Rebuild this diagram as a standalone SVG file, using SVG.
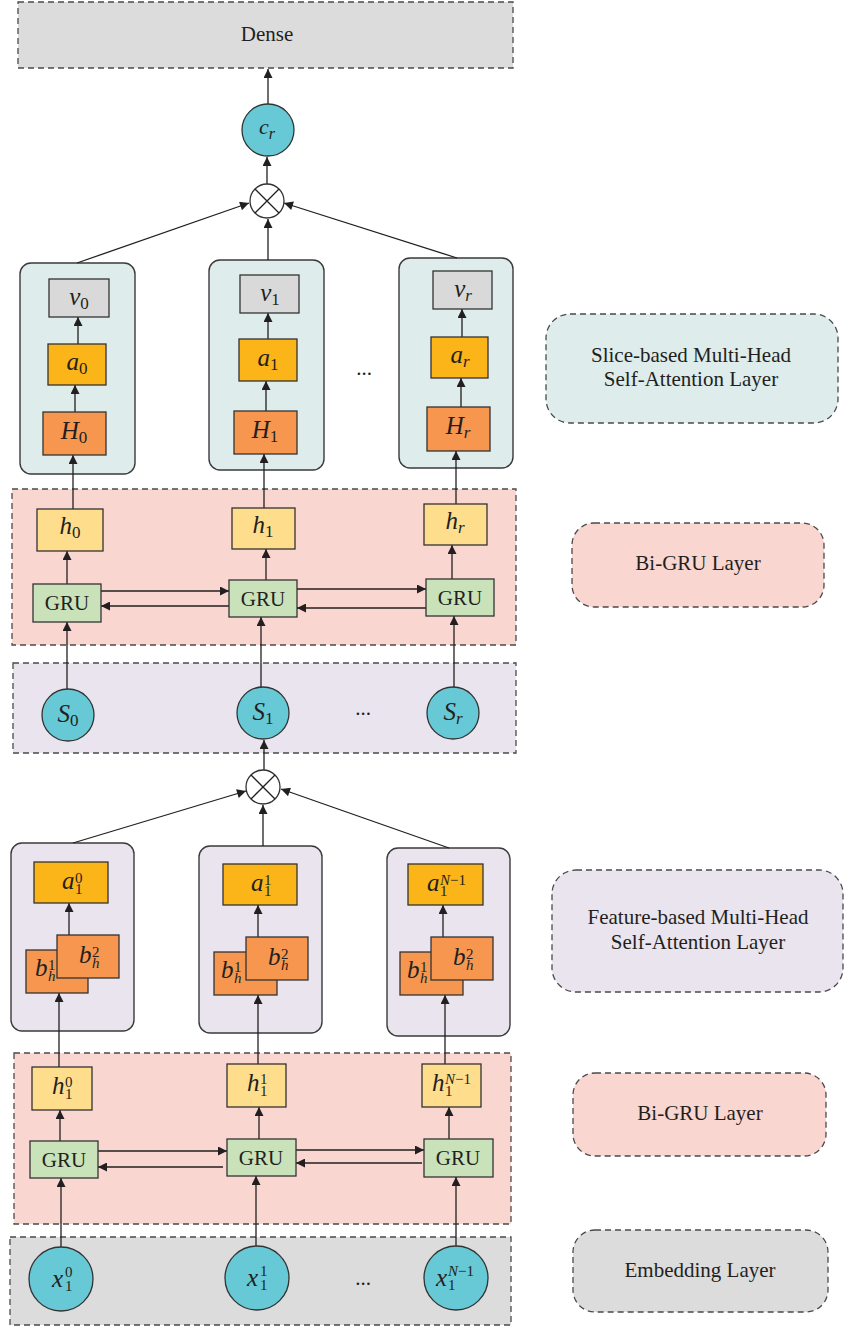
<svg xmlns="http://www.w3.org/2000/svg" width="844" height="1327" viewBox="0 0 844 1327">
<defs>
<marker id="ah" viewBox="0 0 10 10" refX="10" refY="5" markerWidth="10" markerHeight="9" markerUnits="userSpaceOnUse" orient="auto"><path d="M0,0 L10,5 L0,10 z" fill="#231f20"/></marker>
<style>
.layer{stroke:#4a4a4a;stroke-width:1.3;stroke-dasharray:6 4}
.pink{fill:#f9d6d0}.lav{fill:#e9e4ee}.gray{fill:#dcdcdd}.slice{fill:#deeceb}
.grp{stroke:#3a3a3a;stroke-width:1.4}
.nd{stroke:#333;stroke-width:1.3}
.H{fill:#f6964f}.A{fill:#fbb519}.V{fill:#d9d9da}.h{fill:#fedd8c}.G{fill:#c9e2b9}.C{fill:#66c9d5}
.lbl{font-family:"Liberation Serif",serif;font-size:21px;fill:#231f20;text-anchor:middle}
.m{font-family:"Liberation Serif",serif;font-size:25px;font-style:italic;fill:#231f20}
.mc{text-anchor:middle}
.sb{font-size:17px;font-style:normal}
.sbi{font-size:17px;font-style:italic}
.s{font-family:"Liberation Serif",serif;font-size:15px;fill:#231f20;font-style:normal}
.si{font-family:"Liberation Serif",serif;font-size:15px;fill:#231f20;font-style:italic}
.cn line,.cn path{stroke:#231f20;stroke-width:1.3;fill:none}
.ar{marker-end:url(#ah)}
</style>
</defs>
<rect width="844" height="1327" fill="#fff"/>

<!-- layer backgrounds -->
<g id="dense"><rect x="18" y="2" width="495" height="66" class="layer gray"/><text class="lbl" x="267" y="41">Dense</text></g>
<g id="bigru-top-layer"><rect x="12" y="489" width="504" height="156" class="layer pink"/></g>
<g id="s-layer"><rect x="13" y="663" width="503" height="90" class="layer lav"/></g>
<g id="bigru-bottom-layer"><rect x="14" y="1053" width="497" height="171" class="layer pink"/></g>
<g id="embedding-layer"><rect x="10" y="1237" width="501" height="88" class="layer gray"/></g>

<!-- right legend labels -->
<g id="legend-slice"><rect x="546" y="314" width="292" height="109" rx="24" class="layer slice"/><text class="lbl" x="691" y="362">Slice-based Multi-Head</text><text class="lbl" x="691" y="386">Self-Attention Layer</text></g>
<g id="legend-bigru1"><rect x="572" y="523" width="252" height="84" rx="22" class="layer pink"/><text class="lbl" x="698" y="570">Bi-GRU Layer</text></g>
<g id="legend-feature"><rect x="552" y="870" width="291" height="122" rx="24" class="layer lav"/><text class="lbl" x="698" y="924">Feature-based Multi-Head</text><text class="lbl" x="698" y="949">Self-Attention Layer</text></g>
<g id="legend-bigru2"><rect x="573" y="1073" width="253" height="83" rx="22" class="layer pink"/><text class="lbl" x="700" y="1120">Bi-GRU Layer</text></g>
<g id="legend-embedding"><rect x="573" y="1230" width="255" height="82" rx="22" class="layer gray"/><text class="lbl" x="700" y="1277">Embedding Layer</text></g>

<!-- slice attention groups -->
<g id="slice0"><rect x="20" y="263" width="115" height="211" rx="11" class="grp slice"/></g>
<g id="slice1"><rect x="209" y="260" width="115" height="210" rx="11" class="grp slice"/></g>
<g id="slice2"><rect x="399" y="258" width="114" height="210" rx="11" class="grp slice"/></g>
<!-- feature attention groups -->
<g id="feat0"><rect x="11" y="843" width="123" height="188" rx="11" class="grp lav"/></g>
<g id="feat1"><rect x="199" y="846" width="123" height="187" rx="11" class="grp lav"/></g>
<g id="feat2"><rect x="387" y="848" width="123" height="188" rx="11" class="grp lav"/></g>

<!-- connectors -->
<g id="connectors" class="cn">
<line class="ar" x1="268" y1="104" x2="268" y2="69"/>
<line class="ar" x1="267" y1="184" x2="267" y2="157"/>
<line class="ar" x1="77" y1="263" x2="249" y2="203"/>
<line class="ar" x1="268" y1="260" x2="268" y2="219"/>
<line class="ar" x1="457" y1="258" x2="284" y2="203"/>
<line class="ar" x1="78" y1="344" x2="78" y2="317"/>
<line class="ar" x1="75" y1="412" x2="75" y2="385"/>
<line class="ar" x1="73" y1="509" x2="73" y2="455"/>
<line class="ar" x1="268" y1="339" x2="268" y2="313"/>
<line class="ar" x1="266" y1="411" x2="266" y2="381"/>
<line class="ar" x1="264" y1="508" x2="264" y2="454"/>
<line class="ar" x1="462" y1="337" x2="462" y2="309"/>
<line class="ar" x1="461" y1="407" x2="461" y2="378"/>
<line class="ar" x1="456" y1="504" x2="456" y2="451"/>
<line class="ar" x1="67" y1="584" x2="67" y2="551"/>
<line class="ar" x1="266" y1="580" x2="266" y2="549"/>
<line class="ar" x1="452" y1="579" x2="452" y2="545"/>
<line class="ar" x1="101" y1="591" x2="229" y2="591"/>
<line class="ar" x1="229" y1="606" x2="101" y2="606"/>
<line class="ar" x1="297" y1="589" x2="426" y2="589"/>
<line class="ar" x1="426" y1="608" x2="297" y2="608"/>
<line class="ar" x1="67" y1="689" x2="67" y2="622"/>
<line class="ar" x1="261" y1="687" x2="261" y2="617"/>
<line class="ar" x1="454" y1="687" x2="454" y2="616"/>
<line class="ar" x1="264" y1="770" x2="264" y2="740"/>
<line class="ar" x1="73" y1="843" x2="246" y2="791"/>
<line class="ar" x1="263" y1="846" x2="263" y2="805"/>
<line class="ar" x1="449" y1="848" x2="281" y2="789"/>
<line class="ar" x1="69" y1="935" x2="69" y2="903"/>
<line class="ar" x1="258" y1="937" x2="258" y2="905"/>
<line class="ar" x1="443" y1="937" x2="443" y2="905"/>
<line class="ar" x1="59" y1="1067" x2="59" y2="993"/>
<line class="ar" x1="258" y1="1064" x2="258" y2="995"/>
<line class="ar" x1="445" y1="1064" x2="445" y2="995"/>
<line class="ar" x1="60" y1="1141" x2="60" y2="1110"/>
<line class="ar" x1="259" y1="1139" x2="259" y2="1107"/>
<line class="ar" x1="449" y1="1139" x2="449" y2="1107"/>
<line class="ar" x1="98" y1="1151" x2="227" y2="1151"/>
<line class="ar" x1="223" y1="1167" x2="98" y2="1167"/>
<line class="ar" x1="296" y1="1150" x2="424" y2="1150"/>
<line class="ar" x1="422" y1="1163" x2="296" y2="1163"/>
<line class="ar" x1="61" y1="1247" x2="61" y2="1178"/>
<line class="ar" x1="256" y1="1246" x2="256" y2="1176"/>
<line class="ar" x1="456" y1="1246" x2="456" y2="1177"/>
</g>

<!-- top nodes -->
<g id="cr"><circle cx="268" cy="130" r="26" class="nd C"/><text class="m mc" x="267" y="134" style="font-size:22px">c<tspan class="sbi" dy="5" style="font-size:16px">r</tspan></text></g>
<g id="otimes1"><circle cx="267" cy="201" r="17" class="nd" fill="#fff"/><path d="M255,189 L279,213 M279,189 L255,213" stroke="#231f20" stroke-width="1.3"/></g>

<!-- slice nodes -->
<g id="v0"><rect x="49" y="279" width="60" height="38" class="nd V"/><text class="m mc" x="79" y="305">v<tspan class="sb" dy="4">0</tspan></text></g>
<g id="a0"><rect x="48" y="344" width="58" height="41" class="nd A"/><text class="m mc" x="77" y="370">a<tspan class="sb" dy="4">0</tspan></text></g>
<g id="H0"><rect x="43" y="412" width="63" height="43" class="nd H"/><text class="m mc" x="74" y="439">H<tspan class="sb" dy="4">0</tspan></text></g>
<g id="v1"><rect x="240" y="275" width="59" height="38" class="nd V"/><text class="m mc" x="270" y="301">v<tspan class="sb" dy="4">1</tspan></text></g>
<g id="a1"><rect x="239" y="339" width="58" height="42" class="nd A"/><text class="m mc" x="268" y="366">a<tspan class="sb" dy="4">1</tspan></text></g>
<g id="H1"><rect x="234" y="411" width="63" height="43" class="nd H"/><text class="m mc" x="265" y="438">H<tspan class="sb" dy="4">1</tspan></text></g>
<g id="vr"><rect x="433" y="271" width="59" height="38" class="nd V"/><text class="m mc" x="463" y="297">v<tspan class="sbi" dy="4">r</tspan></text></g>
<g id="ar"><rect x="431" y="337" width="57" height="41" class="nd A"/><text class="m mc" x="460" y="363">a<tspan class="sbi" dy="4">r</tspan></text></g>
<g id="Hr"><rect x="427" y="407" width="63" height="44" class="nd H"/><text class="m mc" x="458" y="434">H<tspan class="sbi" dy="4">r</tspan></text></g>
<text class="lbl" x="364" y="375">...</text>

<!-- top Bi-GRU -->
<g id="h0"><rect x="37" y="509" width="66" height="42" class="nd h"/><text class="m mc" x="70" y="534">h<tspan class="sb" dy="4">0</tspan></text></g>
<g id="h1"><rect x="232" y="508" width="63" height="41" class="nd h"/><text class="m mc" x="263" y="533">h<tspan class="sb" dy="4">1</tspan></text></g>
<g id="hr"><rect x="424" y="504" width="63" height="41" class="nd h"/><text class="m mc" x="455" y="529">h<tspan class="sbi" dy="4">r</tspan></text></g>
<g id="gru-t0"><rect x="33" y="584" width="68" height="38" class="nd G"/><text class="lbl" x="67" y="610">GRU</text></g>
<g id="gru-t1"><rect x="229" y="580" width="68" height="37" class="nd G"/><text class="lbl" x="263" y="606">GRU</text></g>
<g id="gru-t2"><rect x="426" y="579" width="68" height="37" class="nd G"/><text class="lbl" x="460" y="605">GRU</text></g>

<!-- S nodes -->
<g id="S0"><circle cx="68" cy="715" r="26" class="nd C"/><text class="m mc" x="68" y="722">S<tspan class="sb" dy="4">0</tspan></text></g>
<g id="S1"><circle cx="263" cy="713" r="26" class="nd C"/><text class="m mc" x="263" y="720">S<tspan class="sb" dy="4">1</tspan></text></g>
<g id="Sr"><circle cx="453" cy="713" r="26" class="nd C"/><text class="m mc" x="453" y="720">S<tspan class="sbi" dy="4">r</tspan></text></g>
<text class="lbl" x="363" y="715">...</text>

<g id="otimes2"><circle cx="263" cy="787" r="17" class="nd" fill="#fff"/><path d="M251,775 L275,799 M275,775 L251,799" stroke="#231f20" stroke-width="1.3"/></g>

<!-- feature nodes -->
<g id="fa0"><rect x="34" y="862" width="74" height="41" class="nd A"/><text class="m" x="62" y="889">a</text><text class="s" x="75" y="883">0</text><text class="s" x="75" y="894">1</text></g>
<g id="fb10"><rect x="26" y="950" width="62" height="43" class="nd H"/><text class="m" x="35" y="976">b</text><text class="s" x="48" y="970">1</text><text class="si" x="48" y="981">h</text></g>
<g id="fb20"><rect x="57" y="935" width="62" height="43" class="nd H"/><text class="m" x="79" y="963">b</text><text class="s" x="92" y="957">2</text><text class="si" x="92" y="968">h</text></g>

<g id="fa1"><rect x="223" y="864" width="74" height="41" class="nd A"/><text class="m" x="251" y="891">a</text><text class="s" x="264" y="885">1</text><text class="s" x="264" y="896">1</text></g>
<g id="fb11"><rect x="214" y="952" width="63" height="43" class="nd H"/><text class="m" x="221" y="978">b</text><text class="s" x="234" y="972">1</text><text class="si" x="234" y="983">h</text></g>
<g id="fb21"><rect x="246" y="937" width="62" height="43" class="nd H"/><text class="m" x="268" y="965">b</text><text class="s" x="281" y="959">2</text><text class="si" x="281" y="970">h</text></g>

<g id="fa2"><rect x="408" y="864" width="75" height="41" class="nd A"/><text class="m" x="427" y="891">a</text><text class="si" x="440" y="885">N<tspan class="s">−1</tspan></text><text class="s" x="440" y="896">1</text></g>
<g id="fb12"><rect x="400" y="952" width="63" height="43" class="nd H"/><text class="m" x="407" y="978">b</text><text class="s" x="420" y="972">1</text><text class="si" x="420" y="983">h</text></g>
<g id="fb22"><rect x="431" y="937" width="62" height="43" class="nd H"/><text class="m" x="453" y="965">b</text><text class="s" x="466" y="959">2</text><text class="si" x="466" y="970">h</text></g>

<!-- bottom Bi-GRU -->
<g id="h10"><rect x="32" y="1067" width="60" height="43" class="nd h"/><text class="m" x="52" y="1094">h</text><text class="s" x="65" y="1087">0</text><text class="s" x="65" y="1099">1</text></g>
<g id="h11"><rect x="227" y="1064" width="59" height="43" class="nd h"/><text class="m" x="247" y="1091">h</text><text class="s" x="260" y="1084">1</text><text class="s" x="260" y="1096">1</text></g>
<g id="h1N"><rect x="422" y="1064" width="59" height="43" class="nd h"/><text class="m" x="432" y="1091">h</text><text class="si" x="445" y="1084">N<tspan class="s">−1</tspan></text><text class="s" x="445" y="1096">1</text></g>
<g id="gru-b0"><rect x="30" y="1141" width="68" height="37" class="nd G"/><text class="lbl" x="64" y="1167">GRU</text></g>
<g id="gru-b1"><rect x="227" y="1139" width="69" height="37" class="nd G"/><text class="lbl" x="261" y="1165">GRU</text></g>
<g id="gru-b2"><rect x="424" y="1139" width="69" height="38" class="nd G"/><text class="lbl" x="458" y="1165">GRU</text></g>

<!-- embedding nodes -->
<g id="x10"><circle cx="61" cy="1279" r="32" class="nd C"/><text class="m" x="52" y="1287">x</text><text class="s" x="65" y="1277">0</text><text class="s" x="65" y="1291">1</text></g>
<g id="x11"><circle cx="257" cy="1278" r="32" class="nd C"/><text class="m" x="247" y="1286">x</text><text class="s" x="260" y="1276">1</text><text class="s" x="260" y="1290">1</text></g>
<g id="x1N"><circle cx="456" cy="1278" r="32" class="nd C"/><text class="m" x="436" y="1286">x</text><text class="si" x="448" y="1276">N<tspan class="s">−1</tspan></text><text class="s" x="448" y="1290">1</text></g>
<text class="lbl" x="363" y="1285">...</text>
</svg>
